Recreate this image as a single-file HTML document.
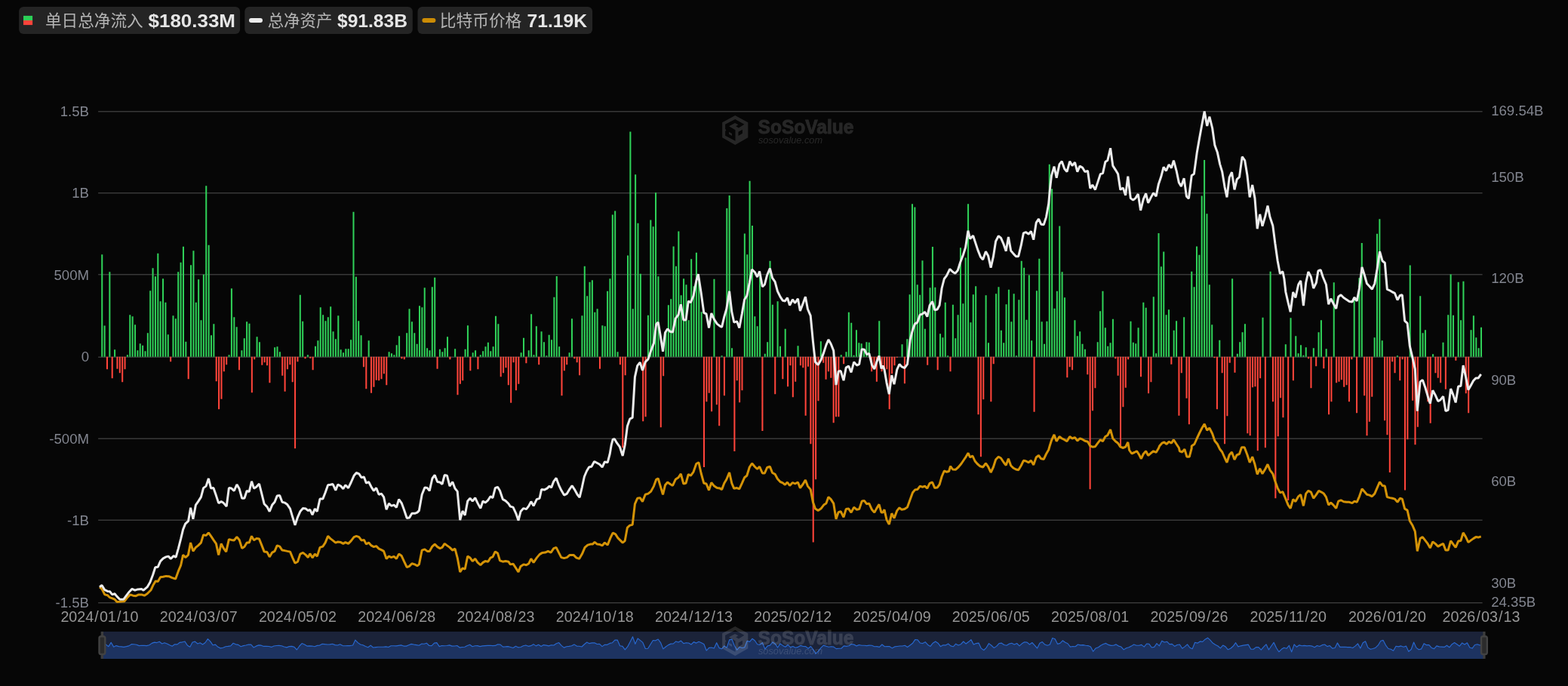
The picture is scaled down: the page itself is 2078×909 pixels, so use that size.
<!DOCTYPE html>
<html lang="zh"><head><meta charset="utf-8"><title>BTC Spot ETF Total Net Inflow</title>
<style>
html,body{margin:0;padding:0;background:#060606;}
body{width:2078px;height:909px;overflow:hidden;position:relative;font-family:"Liberation Sans",sans-serif;}
svg{position:absolute;left:0;top:0;display:block}
text{font-family:"Liberation Sans",sans-serif;}
.yl{fill:#82858f;font-size:18.6px}
.xl{fill:#969696;font-size:19.7px}
.lv{fill:#e6e6e6;font-size:24px;font-weight:bold}
.lg{fill:#b4b4b4;font-size:21.3px;font-family:"Liberation Sans","Noto Sans CJK SC",sans-serif}
</style></head><body>
<svg width="2078" height="909" viewBox="0 0 2078 909">
<rect width="2078" height="909" fill="#060606"/><g style="will-change:opacity">
<rect x="25.1" y="9.1" width="293.0" height="36" rx="6" fill="#242424"/>
<rect x="324.3" y="9.1" width="222.5" height="36" rx="6" fill="#242424"/>
<rect x="553.5" y="9.1" width="231.6" height="36" rx="6" fill="#242424"/>
<rect x="31" y="20.9" width="12.1" height="6.2" fill="#2dcf57"/><rect x="31" y="27" width="12.1" height="6.1" fill="#ff433a"/>
<rect x="330" y="24" width="18" height="6" rx="3" fill="#ececec"/>
<rect x="559.4" y="24" width="18" height="6" rx="3" fill="#cc8c05"/>
<text class="lg" x="60" y="34.8" text-anchor="start" textLength="129.6" lengthAdjust="spacingAndGlyphs">单日总净流入</text>
<text class="lg" x="354.7" y="34.8" text-anchor="start" textLength="85.7" lengthAdjust="spacingAndGlyphs">总净资产</text>
<text class="lg" x="582.8" y="34.8" text-anchor="start" textLength="108.5" lengthAdjust="spacingAndGlyphs">比特币价格</text>
<text class="lv" x="196.5" y="35.8" text-anchor="start" textLength="115.5" lengthAdjust="spacingAndGlyphs">$180.33M</text>
<text class="lv" x="447" y="35.8" text-anchor="start" textLength="93" lengthAdjust="spacingAndGlyphs">$91.83B</text>
<text class="lv" x="698.5" y="35.8" text-anchor="start" textLength="79.5" lengthAdjust="spacingAndGlyphs">71.19K</text>
<rect x="130.1" y="147.00" width="1834.5" height="1.5" fill="#383838"/>
<rect x="130.1" y="255.00" width="1834.5" height="1.5" fill="#383838"/>
<rect x="130.1" y="363.00" width="1834.5" height="1.5" fill="#383838"/>
<rect x="130.1" y="472.50" width="1834.5" height="1.5" fill="#383838"/>
<rect x="130.1" y="580.50" width="1834.5" height="1.5" fill="#383838"/>
<rect x="130.1" y="688.50" width="1834.5" height="1.5" fill="#383838"/>
<rect x="130.1" y="798.00" width="1834.5" height="1.5" fill="#383838"/>
<g fill="#ffffff" opacity="0.13"><path fill-rule="evenodd" d="M974.25 153.07 L991.33 162.13 L991.33 182.18 L974.25 192.08 L957.17 182.18 L957.17 162.13ZM961.13 171.29 L962.12 171.78 L962.12 173.76 L961.13 173.27 L961.13 179.70 L974.50 186.63 L974.50 172.28 L966.08 167.33 L974.00 162.97 L978.46 165.35 L975.24 167.33 L978.95 169.55 L986.38 164.85 L974.25 157.92 L961.13 164.85ZM966.08 174.75 L970.04 176.98 L970.04 179.95 L966.08 177.72ZM978.46 179.95 L983.90 176.73 L983.90 171.78 L978.46 174.75Z"/>
<text x="1004.5" y="176.8" font-size="25.8" font-weight="bold" stroke="#ffffff" stroke-width="0.9" textLength="127" lengthAdjust="spacingAndGlyphs">SoSoValue</text>
<text x="1005" y="189.8" font-size="12.5" font-style="italic" textLength="85" lengthAdjust="spacingAndGlyphs">sosovalue.com</text></g>
<path fill="#2fd058" d="M134.22 472.7h2.05V337.2h-2.05zM137.59 472.7h2.05V431.4h-2.05zM144.32 472.7h2.05V360.2h-2.05zM151.05 472.7h2.05V463.2h-2.05zM167.88 472.7h2.05V470.2h-2.05zM171.25 472.7h2.05V417.2h-2.05zM174.62 472.7h2.05V419.2h-2.05zM177.98 472.7h2.05V430.2h-2.05zM181.35 472.7h2.05V464.2h-2.05zM184.71 472.7h2.05V455.2h-2.05zM188.08 472.7h2.05V457.8h-2.05zM191.45 472.7h2.05V465.2h-2.05zM194.81 472.7h2.05V441.2h-2.05zM198.18 472.7h2.05V385.2h-2.05zM201.54 472.7h2.05V355.2h-2.05zM204.91 472.7h2.05V366.2h-2.05zM208.28 472.7h2.05V335.8h-2.05zM211.64 472.7h2.05V399.2h-2.05zM215.01 472.7h2.05V369.2h-2.05zM218.37 472.7h2.05V400.8h-2.05zM221.74 472.7h2.05V443.2h-2.05zM228.47 472.7h2.05V418.2h-2.05zM231.84 472.7h2.05V422.2h-2.05zM235.20 472.7h2.05V360.2h-2.05zM238.57 472.7h2.05V347.8h-2.05zM241.94 472.7h2.05V326.8h-2.05zM245.30 472.7h2.05V452.8h-2.05zM252.03 472.7h2.05V351.2h-2.05zM255.40 472.7h2.05V332.2h-2.05zM258.77 472.7h2.05V400.8h-2.05zM262.13 472.7h2.05V370.2h-2.05zM265.50 472.7h2.05V424.2h-2.05zM268.86 472.7h2.05V363.8h-2.05zM272.23 472.7h2.05V246.2h-2.05zM275.60 472.7h2.05V324.8h-2.05zM278.96 472.7h2.05V444.2h-2.05zM282.33 472.7h2.05V429.2h-2.05zM302.52 472.7h2.05V470.2h-2.05zM305.89 472.7h2.05V382.2h-2.05zM309.26 472.7h2.05V420.2h-2.05zM312.62 472.7h2.05V433.2h-2.05zM319.35 472.7h2.05V464.2h-2.05zM322.72 472.7h2.05V448.2h-2.05zM326.09 472.7h2.05V426.2h-2.05zM329.45 472.7h2.05V428.8h-2.05zM339.55 472.7h2.05V446.2h-2.05zM342.92 472.7h2.05V453.2h-2.05zM359.75 472.7h2.05V472.8h-2.05zM363.11 472.7h2.05V460.2h-2.05zM366.48 472.7h2.05V459.2h-2.05zM369.84 472.7h2.05V466.2h-2.05zM396.77 472.7h2.05V390.8h-2.05zM400.14 472.7h2.05V425.8h-2.05zM406.87 472.7h2.05V470.2h-2.05zM416.97 472.7h2.05V458.8h-2.05zM420.33 472.7h2.05V451.2h-2.05zM423.70 472.7h2.05V407.2h-2.05zM427.07 472.7h2.05V417.2h-2.05zM430.43 472.7h2.05V425.2h-2.05zM433.80 472.7h2.05V420.2h-2.05zM437.16 472.7h2.05V406.2h-2.05zM440.53 472.7h2.05V439.2h-2.05zM443.90 472.7h2.05V449.2h-2.05zM447.26 472.7h2.05V418.2h-2.05zM450.63 472.7h2.05V463.2h-2.05zM453.99 472.7h2.05V467.2h-2.05zM457.36 472.7h2.05V462.2h-2.05zM460.73 472.7h2.05V462.2h-2.05zM464.09 472.7h2.05V450.2h-2.05zM467.46 472.7h2.05V280.8h-2.05zM470.82 472.7h2.05V366.8h-2.05zM474.19 472.7h2.05V425.2h-2.05zM477.56 472.7h2.05V444.2h-2.05zM487.65 472.7h2.05V451.2h-2.05zM514.58 472.7h2.05V466.2h-2.05zM517.95 472.7h2.05V468.2h-2.05zM521.31 472.7h2.05V470.2h-2.05zM524.68 472.7h2.05V457.2h-2.05zM528.05 472.7h2.05V445.2h-2.05zM538.14 472.7h2.05V441.2h-2.05zM541.51 472.7h2.05V409.2h-2.05zM544.88 472.7h2.05V426.2h-2.05zM548.24 472.7h2.05V441.2h-2.05zM551.61 472.7h2.05V455.8h-2.05zM554.97 472.7h2.05V405.2h-2.05zM558.34 472.7h2.05V407.2h-2.05zM561.71 472.7h2.05V381.2h-2.05zM565.07 472.7h2.05V461.2h-2.05zM568.44 472.7h2.05V464.2h-2.05zM571.80 472.7h2.05V380.2h-2.05zM575.17 472.7h2.05V367.8h-2.05zM581.90 472.7h2.05V462.8h-2.05zM585.27 472.7h2.05V466.2h-2.05zM588.63 472.7h2.05V461.2h-2.05zM592.00 472.7h2.05V446.2h-2.05zM598.73 472.7h2.05V472.8h-2.05zM602.10 472.7h2.05V462.2h-2.05zM615.56 472.7h2.05V462.8h-2.05zM618.93 472.7h2.05V431.2h-2.05zM625.66 472.7h2.05V467.2h-2.05zM629.03 472.7h2.05V464.2h-2.05zM635.76 472.7h2.05V470.2h-2.05zM639.12 472.7h2.05V465.2h-2.05zM642.49 472.7h2.05V459.2h-2.05zM645.86 472.7h2.05V453.8h-2.05zM649.22 472.7h2.05V465.2h-2.05zM652.59 472.7h2.05V459.2h-2.05zM655.95 472.7h2.05V418.8h-2.05zM659.32 472.7h2.05V429.2h-2.05zM689.61 472.7h2.05V467.2h-2.05zM692.98 472.7h2.05V447.8h-2.05zM699.71 472.7h2.05V464.2h-2.05zM703.08 472.7h2.05V416.2h-2.05zM706.44 472.7h2.05V470.2h-2.05zM709.81 472.7h2.05V432.2h-2.05zM716.54 472.7h2.05V439.2h-2.05zM719.91 472.7h2.05V453.2h-2.05zM723.27 472.7h2.05V471.2h-2.05zM726.64 472.7h2.05V443.8h-2.05zM730.01 472.7h2.05V450.2h-2.05zM733.37 472.7h2.05V393.8h-2.05zM736.74 472.7h2.05V366.1h-2.05zM740.10 472.7h2.05V459.2h-2.05zM753.57 472.7h2.05V467.2h-2.05zM756.93 472.7h2.05V422.2h-2.05zM770.40 472.7h2.05V418.2h-2.05zM773.76 472.7h2.05V352.8h-2.05zM777.13 472.7h2.05V392.2h-2.05zM780.50 472.7h2.05V373.8h-2.05zM783.86 472.7h2.05V371.2h-2.05zM787.23 472.7h2.05V413.8h-2.05zM790.59 472.7h2.05V409.2h-2.05zM797.33 472.7h2.05V431.2h-2.05zM800.69 472.7h2.05V432.2h-2.05zM804.06 472.7h2.05V385.8h-2.05zM807.42 472.7h2.05V369.2h-2.05zM810.79 472.7h2.05V284.4h-2.05zM814.16 472.7h2.05V279.4h-2.05zM817.52 472.7h2.05V466.2h-2.05zM830.99 472.7h2.05V338.6h-2.05zM834.35 472.7h2.05V174.6h-2.05zM837.72 472.7h2.05V409.2h-2.05zM841.08 472.7h2.05V231.3h-2.05zM844.45 472.7h2.05V295.8h-2.05zM847.82 472.7h2.05V362.8h-2.05zM857.91 472.7h2.05V417.8h-2.05zM861.28 472.7h2.05V291.4h-2.05zM864.65 472.7h2.05V300.2h-2.05zM868.01 472.7h2.05V255.2h-2.05zM871.38 472.7h2.05V366.2h-2.05zM881.48 472.7h2.05V439.2h-2.05zM884.84 472.7h2.05V404.2h-2.05zM888.21 472.7h2.05V396.2h-2.05zM891.57 472.7h2.05V326.4h-2.05zM894.94 472.7h2.05V352.8h-2.05zM898.31 472.7h2.05V306.4h-2.05zM901.67 472.7h2.05V391.2h-2.05zM905.04 472.7h2.05V369.2h-2.05zM908.40 472.7h2.05V377.2h-2.05zM911.77 472.7h2.05V424.2h-2.05zM915.14 472.7h2.05V343.2h-2.05zM918.50 472.7h2.05V379.2h-2.05zM921.87 472.7h2.05V334.8h-2.05zM925.23 472.7h2.05V369.2h-2.05zM928.60 472.7h2.05V413.2h-2.05zM945.43 472.7h2.05V369.8h-2.05zM955.53 472.7h2.05V471.2h-2.05zM962.26 472.7h2.05V275.9h-2.05zM965.63 472.7h2.05V258.9h-2.05zM968.99 472.7h2.05V461.2h-2.05zM985.82 472.7h2.05V309.4h-2.05zM989.19 472.7h2.05V337.2h-2.05zM992.55 472.7h2.05V239.7h-2.05zM995.92 472.7h2.05V298.9h-2.05zM999.29 472.7h2.05V419.2h-2.05zM1002.65 472.7h2.05V432.2h-2.05zM1006.02 472.7h2.05V367.2h-2.05zM1012.75 472.7h2.05V468.8h-2.05zM1016.12 472.7h2.05V453.2h-2.05zM1019.48 472.7h2.05V345.8h-2.05zM1022.85 472.7h2.05V403.8h-2.05zM1029.58 472.7h2.05V399.2h-2.05zM1032.95 472.7h2.05V458.8h-2.05zM1039.68 472.7h2.05V435.8h-2.05zM1056.51 472.7h2.05V458.2h-2.05zM1086.80 472.7h2.05V452.2h-2.05zM1113.73 472.7h2.05V470.2h-2.05zM1120.46 472.7h2.05V466.2h-2.05zM1123.83 472.7h2.05V413.8h-2.05zM1127.19 472.7h2.05V427.8h-2.05zM1130.56 472.7h2.05V470.8h-2.05zM1133.93 472.7h2.05V437.2h-2.05zM1137.29 472.7h2.05V454.2h-2.05zM1140.66 472.7h2.05V455.2h-2.05zM1144.02 472.7h2.05V463.2h-2.05zM1147.39 472.7h2.05V453.2h-2.05zM1150.76 472.7h2.05V453.8h-2.05zM1164.22 472.7h2.05V425.2h-2.05zM1191.15 472.7h2.05V472.8h-2.05zM1194.51 472.7h2.05V456.2h-2.05zM1201.25 472.7h2.05V449.2h-2.05zM1204.61 472.7h2.05V390.2h-2.05zM1207.98 472.7h2.05V270.2h-2.05zM1211.34 472.7h2.05V274.6h-2.05zM1214.71 472.7h2.05V377.2h-2.05zM1218.08 472.7h2.05V390.8h-2.05zM1221.44 472.7h2.05V345.2h-2.05zM1224.81 472.7h2.05V435.8h-2.05zM1231.54 472.7h2.05V381.2h-2.05zM1234.91 472.7h2.05V326.9h-2.05zM1238.27 472.7h2.05V380.8h-2.05zM1245.00 472.7h2.05V442.2h-2.05zM1248.37 472.7h2.05V447.2h-2.05zM1251.74 472.7h2.05V400.8h-2.05zM1255.10 472.7h2.05V471.2h-2.05zM1261.83 472.7h2.05V403.8h-2.05zM1265.20 472.7h2.05V448.2h-2.05zM1268.57 472.7h2.05V417.2h-2.05zM1271.93 472.7h2.05V328.2h-2.05zM1275.30 472.7h2.05V402.2h-2.05zM1278.66 472.7h2.05V341.6h-2.05zM1282.03 472.7h2.05V270.2h-2.05zM1285.40 472.7h2.05V427.2h-2.05zM1288.76 472.7h2.05V390.2h-2.05zM1292.13 472.7h2.05V379.2h-2.05zM1305.59 472.7h2.05V391.2h-2.05zM1308.96 472.7h2.05V454.2h-2.05zM1319.06 472.7h2.05V389.2h-2.05zM1322.42 472.7h2.05V380.2h-2.05zM1325.79 472.7h2.05V437.8h-2.05zM1329.15 472.7h2.05V454.2h-2.05zM1332.52 472.7h2.05V403.2h-2.05zM1335.89 472.7h2.05V383.8h-2.05zM1339.25 472.7h2.05V426.2h-2.05zM1342.62 472.7h2.05V389.2h-2.05zM1345.98 472.7h2.05V471.2h-2.05zM1349.35 472.7h2.05V397.2h-2.05zM1352.72 472.7h2.05V345.8h-2.05zM1356.08 472.7h2.05V354.8h-2.05zM1359.45 472.7h2.05V423.8h-2.05zM1362.81 472.7h2.05V364.6h-2.05zM1366.18 472.7h2.05V451.2h-2.05zM1372.91 472.7h2.05V385.2h-2.05zM1376.28 472.7h2.05V342.8h-2.05zM1379.64 472.7h2.05V426.2h-2.05zM1383.01 472.7h2.05V455.8h-2.05zM1386.38 472.7h2.05V425.8h-2.05zM1389.74 472.7h2.05V217.7h-2.05zM1393.11 472.7h2.05V250.2h-2.05zM1396.47 472.7h2.05V408.8h-2.05zM1399.84 472.7h2.05V385.8h-2.05zM1403.21 472.7h2.05V299.4h-2.05zM1406.57 472.7h2.05V360.2h-2.05zM1409.94 472.7h2.05V394.2h-2.05zM1423.40 472.7h2.05V424.2h-2.05zM1426.77 472.7h2.05V445.2h-2.05zM1430.13 472.7h2.05V439.2h-2.05zM1433.50 472.7h2.05V455.8h-2.05zM1436.87 472.7h2.05V462.8h-2.05zM1453.70 472.7h2.05V453.2h-2.05zM1457.06 472.7h2.05V412.2h-2.05zM1460.43 472.7h2.05V385.8h-2.05zM1463.79 472.7h2.05V434.2h-2.05zM1467.16 472.7h2.05V458.8h-2.05zM1470.53 472.7h2.05V454.2h-2.05zM1473.89 472.7h2.05V422.8h-2.05zM1497.45 472.7h2.05V425.8h-2.05zM1500.82 472.7h2.05V453.8h-2.05zM1504.19 472.7h2.05V455.2h-2.05zM1507.55 472.7h2.05V434.2h-2.05zM1514.28 472.7h2.05V400.8h-2.05zM1517.65 472.7h2.05V407.8h-2.05zM1527.75 472.7h2.05V393.2h-2.05zM1531.11 472.7h2.05V468.2h-2.05zM1534.48 472.7h2.05V308.9h-2.05zM1537.85 472.7h2.05V353.2h-2.05zM1541.21 472.7h2.05V333.4h-2.05zM1544.58 472.7h2.05V417.2h-2.05zM1547.94 472.7h2.05V410.2h-2.05zM1554.68 472.7h2.05V437.8h-2.05zM1558.04 472.7h2.05V425.2h-2.05zM1568.14 472.7h2.05V420.2h-2.05zM1578.24 472.7h2.05V359.8h-2.05zM1581.60 472.7h2.05V380.2h-2.05zM1584.97 472.7h2.05V326.4h-2.05zM1588.34 472.7h2.05V337.8h-2.05zM1591.70 472.7h2.05V259.6h-2.05zM1595.07 472.7h2.05V211.9h-2.05zM1598.43 472.7h2.05V283.2h-2.05zM1601.80 472.7h2.05V377.2h-2.05zM1605.17 472.7h2.05V430.2h-2.05zM1615.26 472.7h2.05V450.8h-2.05zM1632.09 472.7h2.05V369.2h-2.05zM1638.83 472.7h2.05V468.8h-2.05zM1642.19 472.7h2.05V453.2h-2.05zM1645.56 472.7h2.05V440.2h-2.05zM1648.92 472.7h2.05V429.2h-2.05zM1672.49 472.7h2.05V420.8h-2.05zM1679.22 472.7h2.05V472.8h-2.05zM1682.58 472.7h2.05V359.8h-2.05zM1702.78 472.7h2.05V456.2h-2.05zM1709.51 472.7h2.05V421.2h-2.05zM1716.24 472.7h2.05V445.2h-2.05zM1719.61 472.7h2.05V468.2h-2.05zM1722.98 472.7h2.05V457.2h-2.05zM1726.34 472.7h2.05V470.8h-2.05zM1729.71 472.7h2.05V460.2h-2.05zM1739.81 472.7h2.05V461.2h-2.05zM1746.54 472.7h2.05V440.2h-2.05zM1749.90 472.7h2.05V424.2h-2.05zM1756.64 472.7h2.05V462.2h-2.05zM1766.73 472.7h2.05V374.2h-2.05zM1793.66 472.7h2.05V397.2h-2.05zM1800.39 472.7h2.05V368.2h-2.05zM1803.76 472.7h2.05V321.9h-2.05zM1820.59 472.7h2.05V447.2h-2.05zM1823.96 472.7h2.05V309.8h-2.05zM1827.32 472.7h2.05V290.2h-2.05zM1830.69 472.7h2.05V451.2h-2.05zM1850.88 472.7h2.05V471.2h-2.05zM1867.71 472.7h2.05V351.6h-2.05zM1881.18 472.7h2.05V392.2h-2.05zM1884.54 472.7h2.05V441.2h-2.05zM1887.91 472.7h2.05V437.2h-2.05zM1898.01 472.7h2.05V469.2h-2.05zM1911.47 472.7h2.05V453.8h-2.05zM1918.20 472.7h2.05V417.2h-2.05zM1921.57 472.7h2.05V363.6h-2.05zM1924.94 472.7h2.05V417.8h-2.05zM1931.67 472.7h2.05V373.8h-2.05zM1935.03 472.7h2.05V424.2h-2.05zM1938.40 472.7h2.05V372.8h-2.05zM1948.50 472.7h2.05V437.2h-2.05zM1951.86 472.7h2.05V418.2h-2.05zM1955.23 472.7h2.05V447.2h-2.05zM1958.60 472.7h2.05V461.2h-2.05zM1961.96 472.7h2.05V433.8h-2.05z"/>
<path fill="#ff443a" d="M140.96 472.7h2.05V489.2h-2.05zM147.69 472.7h2.05V501.2h-2.05zM154.42 472.7h2.05V488.8h-2.05zM157.79 472.7h2.05V494.2h-2.05zM161.15 472.7h2.05V506.2h-2.05zM164.52 472.7h2.05V489.2h-2.05zM225.11 472.7h2.05V479.2h-2.05zM248.67 472.7h2.05V502.2h-2.05zM285.69 472.7h2.05V505.2h-2.05zM289.06 472.7h2.05V542.2h-2.05zM292.43 472.7h2.05V528.8h-2.05zM295.79 472.7h2.05V492.2h-2.05zM299.16 472.7h2.05V483.2h-2.05zM315.99 472.7h2.05V490.2h-2.05zM332.82 472.7h2.05V520.2h-2.05zM336.18 472.7h2.05V476.2h-2.05zM346.28 472.7h2.05V483.8h-2.05zM349.65 472.7h2.05V480.2h-2.05zM353.01 472.7h2.05V484.2h-2.05zM356.38 472.7h2.05V507.2h-2.05zM373.21 472.7h2.05V497.8h-2.05zM376.58 472.7h2.05V518.8h-2.05zM379.94 472.7h2.05V489.2h-2.05zM383.31 472.7h2.05V483.2h-2.05zM386.67 472.7h2.05V506.2h-2.05zM390.04 472.7h2.05V594.2h-2.05zM393.41 472.7h2.05V479.2h-2.05zM403.50 472.7h2.05V475.2h-2.05zM410.24 472.7h2.05V474.8h-2.05zM413.60 472.7h2.05V490.2h-2.05zM480.92 472.7h2.05V486.2h-2.05zM484.29 472.7h2.05V515.2h-2.05zM491.02 472.7h2.05V520.8h-2.05zM494.39 472.7h2.05V512.8h-2.05zM497.75 472.7h2.05V503.8h-2.05zM501.12 472.7h2.05V504.2h-2.05zM504.48 472.7h2.05V502.2h-2.05zM507.85 472.7h2.05V495.2h-2.05zM511.22 472.7h2.05V510.2h-2.05zM531.41 472.7h2.05V475.2h-2.05zM534.78 472.7h2.05V476.2h-2.05zM578.54 472.7h2.05V488.8h-2.05zM595.37 472.7h2.05V476.2h-2.05zM605.46 472.7h2.05V523.2h-2.05zM608.83 472.7h2.05V508.8h-2.05zM612.20 472.7h2.05V504.2h-2.05zM622.29 472.7h2.05V491.2h-2.05zM632.39 472.7h2.05V489.2h-2.05zM662.69 472.7h2.05V499.2h-2.05zM666.05 472.7h2.05V494.2h-2.05zM669.42 472.7h2.05V487.2h-2.05zM672.78 472.7h2.05V510.2h-2.05zM676.15 472.7h2.05V533.8h-2.05zM679.52 472.7h2.05V480.2h-2.05zM682.88 472.7h2.05V517.2h-2.05zM686.25 472.7h2.05V508.8h-2.05zM696.35 472.7h2.05V481.2h-2.05zM713.18 472.7h2.05V483.2h-2.05zM743.47 472.7h2.05V524.2h-2.05zM746.84 472.7h2.05V491.2h-2.05zM750.20 472.7h2.05V483.2h-2.05zM760.30 472.7h2.05V475.2h-2.05zM763.67 472.7h2.05V480.2h-2.05zM767.03 472.7h2.05V497.2h-2.05zM793.96 472.7h2.05V488.8h-2.05zM820.89 472.7h2.05V483.2h-2.05zM824.25 472.7h2.05V593.2h-2.05zM827.62 472.7h2.05V497.2h-2.05zM851.18 472.7h2.05V558.2h-2.05zM854.55 472.7h2.05V552.2h-2.05zM874.74 472.7h2.05V566.2h-2.05zM878.11 472.7h2.05V498.2h-2.05zM931.97 472.7h2.05V619.0h-2.05zM935.33 472.7h2.05V532.2h-2.05zM938.70 472.7h2.05V520.8h-2.05zM942.06 472.7h2.05V545.2h-2.05zM948.80 472.7h2.05V536.2h-2.05zM952.16 472.7h2.05V564.2h-2.05zM958.89 472.7h2.05V524.2h-2.05zM972.36 472.7h2.05V597.9h-2.05zM975.72 472.7h2.05V504.2h-2.05zM979.09 472.7h2.05V533.2h-2.05zM982.46 472.7h2.05V517.2h-2.05zM1009.38 472.7h2.05V570.9h-2.05zM1026.21 472.7h2.05V522.2h-2.05zM1036.31 472.7h2.05V502.2h-2.05zM1043.04 472.7h2.05V512.2h-2.05zM1046.41 472.7h2.05V484.2h-2.05zM1049.78 472.7h2.05V526.2h-2.05zM1053.14 472.7h2.05V505.8h-2.05zM1059.87 472.7h2.05V484.2h-2.05zM1063.24 472.7h2.05V487.2h-2.05zM1066.61 472.7h2.05V550.8h-2.05zM1069.97 472.7h2.05V485.8h-2.05zM1073.34 472.7h2.05V588.2h-2.05zM1076.70 472.7h2.05V718.6h-2.05zM1080.07 472.7h2.05V635.2h-2.05zM1083.44 472.7h2.05V531.2h-2.05zM1090.17 472.7h2.05V480.8h-2.05zM1093.53 472.7h2.05V502.8h-2.05zM1096.90 472.7h2.05V492.2h-2.05zM1100.27 472.7h2.05V500.8h-2.05zM1103.63 472.7h2.05V560.2h-2.05zM1107.00 472.7h2.05V552.2h-2.05zM1110.36 472.7h2.05V552.2h-2.05zM1117.10 472.7h2.05V482.2h-2.05zM1154.12 472.7h2.05V492.2h-2.05zM1157.49 472.7h2.05V488.8h-2.05zM1160.85 472.7h2.05V505.8h-2.05zM1167.59 472.7h2.05V492.2h-2.05zM1170.95 472.7h2.05V488.2h-2.05zM1174.32 472.7h2.05V489.2h-2.05zM1177.68 472.7h2.05V542.2h-2.05zM1181.05 472.7h2.05V495.2h-2.05zM1184.42 472.7h2.05V484.2h-2.05zM1187.78 472.7h2.05V473.8h-2.05zM1197.88 472.7h2.05V508.2h-2.05zM1228.17 472.7h2.05V483.8h-2.05zM1241.64 472.7h2.05V490.2h-2.05zM1258.47 472.7h2.05V492.2h-2.05zM1295.49 472.7h2.05V549.2h-2.05zM1298.86 472.7h2.05V605.2h-2.05zM1302.23 472.7h2.05V529.2h-2.05zM1312.32 472.7h2.05V532.2h-2.05zM1315.69 472.7h2.05V482.2h-2.05zM1369.55 472.7h2.05V545.8h-2.05zM1413.30 472.7h2.05V500.2h-2.05zM1416.67 472.7h2.05V486.2h-2.05zM1420.04 472.7h2.05V490.2h-2.05zM1440.23 472.7h2.05V496.2h-2.05zM1443.60 472.7h2.05V648.2h-2.05zM1446.96 472.7h2.05V544.2h-2.05zM1450.33 472.7h2.05V514.2h-2.05zM1477.26 472.7h2.05V475.2h-2.05zM1480.62 472.7h2.05V497.8h-2.05zM1483.99 472.7h2.05V591.2h-2.05zM1487.36 472.7h2.05V539.2h-2.05zM1490.72 472.7h2.05V513.8h-2.05zM1494.09 472.7h2.05V476.2h-2.05zM1510.92 472.7h2.05V499.2h-2.05zM1521.02 472.7h2.05V521.2h-2.05zM1524.38 472.7h2.05V506.2h-2.05zM1551.31 472.7h2.05V482.8h-2.05zM1561.41 472.7h2.05V550.8h-2.05zM1564.77 472.7h2.05V494.2h-2.05zM1571.51 472.7h2.05V527.8h-2.05zM1574.87 472.7h2.05V562.2h-2.05zM1608.53 472.7h2.05V474.2h-2.05zM1611.90 472.7h2.05V542.2h-2.05zM1618.63 472.7h2.05V494.2h-2.05zM1622.00 472.7h2.05V588.2h-2.05zM1625.36 472.7h2.05V551.2h-2.05zM1628.73 472.7h2.05V480.8h-2.05zM1635.46 472.7h2.05V493.8h-2.05zM1652.29 472.7h2.05V574.2h-2.05zM1655.66 472.7h2.05V577.2h-2.05zM1659.02 472.7h2.05V513.2h-2.05zM1662.39 472.7h2.05V512.2h-2.05zM1665.75 472.7h2.05V597.2h-2.05zM1669.12 472.7h2.05V501.2h-2.05zM1675.85 472.7h2.05V593.2h-2.05zM1685.95 472.7h2.05V532.2h-2.05zM1689.32 472.7h2.05V660.2h-2.05zM1692.68 472.7h2.05V578.2h-2.05zM1696.05 472.7h2.05V527.2h-2.05zM1699.41 472.7h2.05V553.2h-2.05zM1706.15 472.7h2.05V662.9h-2.05zM1712.88 472.7h2.05V504.2h-2.05zM1733.07 472.7h2.05V475.2h-2.05zM1736.44 472.7h2.05V514.2h-2.05zM1743.17 472.7h2.05V485.2h-2.05zM1753.27 472.7h2.05V488.2h-2.05zM1760.00 472.7h2.05V549.2h-2.05zM1763.37 472.7h2.05V532.2h-2.05zM1770.10 472.7h2.05V507.2h-2.05zM1773.47 472.7h2.05V505.8h-2.05zM1776.83 472.7h2.05V503.2h-2.05zM1780.20 472.7h2.05V512.8h-2.05zM1783.56 472.7h2.05V510.2h-2.05zM1786.93 472.7h2.05V532.2h-2.05zM1790.30 472.7h2.05V476.2h-2.05zM1797.03 472.7h2.05V547.2h-2.05zM1807.13 472.7h2.05V524.2h-2.05zM1810.49 472.7h2.05V577.2h-2.05zM1813.86 472.7h2.05V558.8h-2.05zM1817.22 472.7h2.05V525.8h-2.05zM1834.05 472.7h2.05V557.2h-2.05zM1837.42 472.7h2.05V576.2h-2.05zM1840.79 472.7h2.05V625.9h-2.05zM1844.15 472.7h2.05V479.2h-2.05zM1847.52 472.7h2.05V494.2h-2.05zM1854.25 472.7h2.05V504.2h-2.05zM1857.62 472.7h2.05V476.2h-2.05zM1860.98 472.7h2.05V649.6h-2.05zM1864.35 472.7h2.05V582.2h-2.05zM1871.08 472.7h2.05V530.8h-2.05zM1874.45 472.7h2.05V589.2h-2.05zM1877.81 472.7h2.05V565.8h-2.05zM1891.28 472.7h2.05V532.2h-2.05zM1894.64 472.7h2.05V560.8h-2.05zM1901.37 472.7h2.05V494.2h-2.05zM1904.74 472.7h2.05V500.8h-2.05zM1908.11 472.7h2.05V507.2h-2.05zM1914.84 472.7h2.05V515.8h-2.05zM1928.30 472.7h2.05V477.8h-2.05zM1941.77 472.7h2.05V521.2h-2.05zM1945.13 472.7h2.05V547.2h-2.05z"/>
<polyline fill="none" stroke="#d49307" stroke-width="3" stroke-linejoin="bevel" stroke-linecap="butt" points="132.0,777.9 135.0,780.4 138.8,787.9 142.5,788.7 145.5,791.7 148.8,792.9 152.0,794.2 155.0,797.5 158.8,797.2 165.0,796.7 168.8,791.7 172.5,787.9 176.3,789.2 180.1,789.7 183.8,787.9 187.6,787.9 191.3,789.2 195.1,786.7 200.1,781.7 203.3,774.7 206.3,769.9 209.3,770.4 212.6,764.7 216.3,764.2 220.1,763.4 223.8,763.7 227.6,765.4 232.6,767.2 236.4,756.7 239.6,749.2 242.6,735.4 245.9,738.6 249.4,735.4 252.6,719.1 255.9,730.4 259.4,725.4 262.6,722.9 266.4,719.1 269.6,708.6 273.1,709.6 276.4,705.9 279.6,710.4 282.9,715.4 286.4,720.4 289.7,735.4 293.2,720.4 296.4,726.6 299.7,731.1 303.4,714.6 306.7,715.4 310.2,715.9 313.9,711.6 317.2,715.4 320.7,726.6 323.9,724.6 327.2,719.1 330.2,719.1 333.5,710.4 336.5,715.9 339.7,713.6 343.5,714.1 346.5,721.6 350.2,731.1 354.0,731.6 357.2,737.9 360.7,732.1 364.0,730.4 367.2,722.9 370.7,724.1 374.0,729.1 377.2,729.6 380.8,730.4 384.5,731.1 387.8,739.1 391.0,746.2 394.5,744.2 397.8,734.1 401.5,732.4 405.3,735.4 408.3,738.6 410.8,733.6 414.0,739.1 417.3,734.1 420.3,737.1 424.0,725.4 427.8,724.1 431.1,719.1 434.6,710.4 437.8,713.6 441.1,716.1 444.8,719.1 447.8,717.9 451.6,718.6 454.8,720.4 457.8,718.6 461.6,720.4 465.3,716.6 469.1,711.6 472.3,710.4 475.8,711.6 479.1,716.1 482.4,715.4 485.4,721.1 488.6,719.1 492.1,722.9 495.4,724.6 498.6,723.6 502.1,727.1 505.4,728.6 508.6,730.4 512.1,740.4 515.4,737.1 518.6,738.6 522.1,737.4 525.4,740.4 528.6,734.1 532.2,736.6 535.4,743.6 539.2,751.7 542.4,750.4 545.9,746.7 549.7,747.9 552.9,749.7 555.4,747.9 559.2,729.1 562.9,727.9 566.2,730.4 569.2,730.4 572.9,724.1 576.2,721.1 579.7,724.6 583.0,726.6 586.0,725.4 589.2,720.4 592.5,722.9 596.0,725.4 599.7,729.1 603.0,727.1 606.2,739.1 609.7,757.9 613.0,752.9 616.2,754.2 619.7,737.1 623.0,739.1 626.2,743.6 629.7,740.4 633.0,745.4 636.8,748.7 640.0,745.4 643.0,743.6 646.8,744.2 650.0,739.1 653.0,737.9 656.3,730.9 659.5,732.9 662.5,742.9 666.3,744.2 670.0,743.6 673.8,744.2 676.3,747.9 680.0,747.2 683.8,752.9 687.0,757.9 690.0,750.4 693.8,747.9 697.5,748.7 700.8,746.7 703.8,740.4 707.1,745.4 711.3,739.1 715.1,734.6 718.8,732.4 722.6,732.1 726.3,730.4 730.1,732.1 733.8,726.6 737.1,725.4 740.6,732.4 743.8,738.6 747.6,739.6 751.4,738.6 755.1,735.4 760.1,735.4 763.9,739.1 767.6,740.4 771.4,734.1 775.1,725.4 778.9,722.1 782.6,721.1 785.6,720.9 788.1,718.4 791.4,721.1 795.1,721.6 798.1,722.9 801.4,719.1 805.2,722.1 808.9,712.9 812.2,706.1 815.7,707.9 818.9,712.9 822.7,716.6 825.2,719.1 828.2,716.6 831.4,699.1 834.7,696.1 838.2,695.4 841.4,667.8 844.7,660.3 848.2,659.6 851.5,664.6 855.2,655.3 859.0,654.1 862.7,651.1 866.5,644.1 869.7,635.3 872.2,634.0 875.2,644.1 878.5,655.3 881.5,642.8 884.7,639.0 888.2,641.5 891.5,643.5 895.2,635.3 899.0,632.8 902.3,627.8 905.8,641.0 909.0,640.3 912.3,628.5 915.3,630.3 919.0,625.3 922.8,614.5 926.0,612.8 929.0,626.5 932.8,640.3 936.0,641.0 939.5,649.6 942.8,639.5 946.5,644.1 950.3,646.6 954.1,647.1 956.6,648.6 959.8,640.3 962.8,635.3 966.6,626.0 969.8,640.3 972.8,647.3 976.6,646.6 979.8,647.8 983.3,640.3 986.6,632.8 989.8,630.3 993.3,619.0 996.6,614.0 1000.4,618.5 1003.6,621.5 1006.6,618.3 1010.4,627.0 1013.4,627.0 1016.6,619.5 1020.4,618.3 1023.6,626.5 1027.1,628.3 1030.4,634.5 1034.1,638.5 1037.4,639.8 1040.4,642.3 1043.4,639.0 1046.6,643.5 1050.4,639.5 1053.7,641.0 1057.4,639.0 1060.4,646.6 1064.2,641.5 1067.4,636.0 1070.4,644.1 1074.2,648.6 1077.4,665.3 1080.4,674.1 1084.2,676.6 1087.9,674.1 1091.7,669.1 1094.9,667.1 1097.9,658.6 1101.2,661.6 1104.7,667.1 1108.0,687.8 1111.2,678.6 1114.2,677.8 1118.0,685.3 1121.2,674.6 1124.7,674.1 1128.0,679.1 1131.7,672.1 1135.5,675.3 1138.7,674.6 1142.2,664.1 1145.5,663.6 1148.7,667.8 1151.8,667.1 1155.5,675.3 1158.8,679.1 1161.8,673.6 1165.0,668.3 1168.0,679.1 1170.0,679.1 1172.0,675.3 1175.0,688.6 1178.3,694.9 1181.8,680.3 1185.0,686.6 1188.8,676.6 1192.0,672.8 1195.0,675.3 1198.8,674.6 1202.5,672.1 1206.3,661.6 1209.5,652.8 1212.5,649.1 1215.8,648.6 1219.3,644.1 1222.6,645.3 1225.6,644.1 1228.8,647.1 1232.1,640.3 1235.6,639.0 1238.8,646.6 1242.1,646.1 1245.1,642.0 1248.1,631.5 1251.3,624.0 1254.6,625.3 1257.6,624.5 1259.6,617.8 1262.6,622.0 1266.3,622.3 1270.1,619.0 1273.9,614.5 1277.6,609.0 1280.1,605.3 1283.1,600.3 1285.6,606.0 1288.9,604.0 1292.1,611.0 1295.1,614.5 1298.9,617.8 1302.6,619.0 1306.4,614.0 1309.6,618.3 1313.1,626.0 1316.4,619.0 1319.6,609.0 1323.2,605.3 1326.4,607.0 1330.2,612.8 1333.2,616.5 1336.4,607.8 1339.7,617.0 1343.2,620.3 1346.4,622.0 1349.7,622.8 1353.2,617.0 1356.4,610.3 1359.7,611.0 1363.2,612.8 1366.4,610.3 1369.7,616.0 1373.2,606.0 1376.5,603.5 1379.7,607.8 1383.2,608.5 1386.5,601.5 1389.7,596.0 1391.5,589.7 1393.5,583.5 1397.0,576.0 1400.2,584.7 1404.0,578.5 1407.2,581.0 1410.7,582.7 1414.0,584.7 1417.7,578.5 1421.0,581.0 1424.5,579.7 1427.8,584.2 1431.0,581.0 1434.5,582.2 1437.8,584.2 1441.5,585.2 1444.8,591.0 1447.8,592.2 1451.5,591.7 1454.8,587.2 1458.3,582.7 1461.5,584.7 1464.8,578.5 1467.8,576.7 1471.6,569.2 1474.8,581.0 1478.3,584.7 1481.6,587.2 1484.8,592.2 1488.3,593.5 1491.6,592.2 1494.8,586.0 1496.6,596.5 1499.8,601.0 1503.3,599.5 1506.6,597.8 1509.8,602.8 1512.3,607.8 1515.3,601.5 1518.6,597.8 1521.6,603.5 1525.4,600.3 1528.6,597.8 1532.1,599.5 1535.4,594.0 1536.6,591.0 1539.9,587.2 1542.9,586.0 1546.1,588.5 1549.1,585.2 1552.4,587.2 1555.4,582.7 1559.1,588.5 1562.4,593.5 1563.4,597.8 1566.6,599.0 1569.9,595.3 1572.9,605.3 1576.2,605.3 1579.2,594.0 1579.2,591.0 1582.9,588.5 1586.2,581.0 1589.7,573.5 1592.9,567.2 1596.2,561.7 1599.7,570.2 1602.9,567.2 1606.7,574.7 1609.9,584.2 1613.4,588.5 1616.7,595.3 1619.7,599.0 1623.0,606.5 1626.0,612.8 1629.2,602.8 1632.5,599.0 1636.0,609.0 1639.2,602.8 1642.5,601.5 1645.5,592.7 1649.2,592.7 1653.0,602.8 1656.2,612.8 1659.7,605.3 1663.0,615.3 1666.2,628.5 1669.7,621.0 1673.0,627.8 1676.8,621.5 1680.0,615.3 1683.0,622.8 1686.8,627.8 1689.9,637.8 1693.1,646.6 1696.4,652.8 1699.9,651.6 1703.1,659.1 1707.1,669.1 1710.2,673.6 1713.7,661.6 1716.9,664.6 1720.7,657.8 1723.7,655.3 1727.4,670.3 1730.7,654.1 1733.9,650.3 1737.4,652.1 1740.7,660.3 1744.4,655.3 1747.7,650.3 1751.2,652.1 1754.4,654.1 1757.4,658.6 1760.7,669.1 1763.7,666.1 1767.0,669.1 1770.7,673.6 1773.7,664.1 1777.0,662.8 1780.7,664.8 1784.5,665.3 1788.2,665.3 1792.0,666.6 1795.0,664.1 1798.2,665.3 1801.5,657.8 1805.0,647.8 1808.3,651.6 1811.5,655.3 1815.0,656.1 1818.3,657.8 1821.8,654.1 1825.0,646.6 1828.5,638.5 1832.0,643.5 1835.3,644.1 1838.3,658.6 1842.0,659.6 1845.3,660.3 1848.3,661.1 1852.0,665.3 1855.3,660.3 1858.3,661.1 1861.6,674.1 1865.1,676.1 1868.3,690.3 1872.1,696.6 1875.3,704.1 1878.3,730.4 1882.1,713.6 1885.3,711.6 1888.8,716.1 1892.1,720.4 1895.3,726.1 1898.8,717.9 1902.1,720.4 1905.8,724.1 1909.1,722.1 1912.6,720.4 1915.9,729.1 1919.1,729.1 1922.6,716.6 1925.9,721.1 1929.1,725.4 1932.6,717.1 1935.9,716.6 1939.1,705.9 1942.6,711.6 1945.9,718.6 1949.1,716.1 1952.6,713.6 1955.9,711.6 1959.2,712.1 1962.7,710.9"/>
<polyline fill="none" stroke="#ececec" stroke-width="3" stroke-linejoin="bevel" stroke-linecap="butt" points="132.0,777.9 135.0,775.4 138.8,781.7 142.5,783.4 145.5,783.7 148.8,787.9 152.0,786.7 155.0,790.4 158.8,794.2 163.8,794.2 167.5,789.2 171.3,784.2 175.0,780.4 178.8,782.2 182.6,780.9 187.6,780.4 190.1,782.2 195.1,777.9 198.8,771.7 202.6,761.7 205.8,751.7 209.3,751.2 212.6,743.6 216.3,739.9 220.1,737.9 223.1,737.1 226.3,740.4 230.1,736.6 233.1,738.4 236.4,726.6 239.6,714.1 242.6,701.6 245.6,694.1 249.6,690.3 252.6,672.8 255.9,687.8 259.4,669.1 262.6,664.6 266.4,658.6 269.6,646.6 273.1,644.1 276.4,634.0 279.6,647.1 282.9,646.6 286.4,656.6 289.7,666.6 293.2,664.6 296.4,666.6 300.2,671.1 303.4,646.6 306.7,647.1 310.2,650.3 313.9,642.0 317.2,647.8 320.7,660.3 323.9,660.3 327.2,650.3 330.2,651.6 333.5,637.8 336.5,647.1 339.7,645.3 343.5,641.0 346.5,652.8 350.2,667.8 354.0,671.6 357.2,677.8 360.7,669.1 364.0,665.3 367.2,657.1 370.7,656.6 374.0,665.3 377.2,666.1 380.8,668.6 384.5,674.1 387.8,685.3 391.0,695.9 394.5,685.3 397.8,677.8 401.5,673.6 405.3,674.1 408.3,676.6 410.8,675.3 414.0,682.1 417.3,674.1 420.3,677.8 424.0,661.1 427.8,661.1 431.1,652.8 434.6,642.8 437.8,642.3 441.1,641.5 444.8,649.6 447.8,642.0 451.6,644.1 454.8,647.8 457.8,642.8 461.6,646.6 465.3,639.0 469.1,630.3 472.3,626.5 475.8,627.8 479.1,632.8 482.4,632.0 485.4,640.3 488.6,638.5 492.1,645.3 495.4,650.3 498.6,646.6 502.1,655.3 505.4,654.1 508.6,658.6 512.1,675.3 515.4,667.1 518.6,670.3 522.1,669.1 525.4,672.3 528.6,661.6 532.2,666.6 535.4,675.3 539.2,686.6 542.4,686.1 545.9,680.3 549.7,680.3 552.9,679.1 555.4,676.6 559.2,655.3 562.9,646.1 566.2,646.6 569.2,650.3 572.9,634.0 576.2,629.5 579.7,638.5 583.0,639.0 586.0,641.5 589.2,629.5 592.5,630.3 596.0,644.1 599.7,638.5 603.0,647.3 606.2,651.1 609.7,689.1 613.0,677.1 616.2,682.8 619.7,664.1 623.0,660.3 626.2,664.1 629.7,659.6 633.0,666.6 636.8,673.6 640.0,664.1 643.0,666.1 646.8,662.8 650.0,657.8 653.0,659.6 656.3,646.6 659.5,645.3 662.5,650.3 666.3,661.6 670.0,663.6 673.8,667.3 676.3,671.1 680.0,672.1 683.8,680.3 687.0,689.6 690.0,677.8 693.8,673.6 697.5,674.6 700.8,670.3 703.8,664.6 707.1,670.3 711.3,661.6 715.1,660.3 717.6,648.6 721.3,649.1 725.1,647.1 728.1,644.1 730.6,646.1 733.8,637.8 737.1,633.5 740.6,642.8 743.8,649.6 747.6,656.1 751.4,654.1 755.1,647.8 758.1,643.5 761.4,648.6 765.1,655.3 768.1,659.1 771.4,645.3 774.4,631.5 777.6,624.0 780.6,619.0 783.9,618.3 787.6,611.5 791.4,613.5 794.6,615.3 798.1,619.0 801.4,612.0 805.2,612.8 808.2,601.5 810.2,589.7 812.2,582.2 814.4,581.7 817.7,587.2 821.4,592.2 825.2,604.0 828.2,589.7 831.4,564.7 834.7,555.2 838.2,553.4 841.4,499.6 844.7,484.6 848.2,480.1 851.5,490.9 855.2,479.6 859.0,475.9 862.7,464.6 866.5,454.6 869.7,429.6 872.2,427.1 875.2,444.6 878.5,465.8 881.5,440.8 884.7,435.8 888.2,439.6 891.5,440.1 895.2,422.1 899.0,417.1 902.3,403.3 905.8,424.1 909.0,424.1 912.3,399.0 915.3,400.8 919.0,392.0 922.8,372.0 925.3,363.2 929.0,387.0 932.8,414.5 936.0,415.8 939.5,434.6 942.8,415.0 946.5,423.3 950.3,429.1 954.1,432.1 956.6,433.3 959.8,419.6 962.8,409.5 966.6,385.8 969.8,413.3 972.8,427.1 976.6,425.8 979.8,434.6 983.3,415.8 986.6,397.0 989.8,392.0 993.3,374.5 996.6,357.0 1000.4,360.7 1003.6,367.0 1006.6,359.5 1010.4,380.0 1013.4,377.0 1016.6,364.5 1020.4,355.7 1023.6,368.3 1027.1,373.3 1030.4,385.8 1034.1,393.3 1037.4,398.3 1040.4,399.0 1043.4,394.5 1046.6,404.5 1050.4,397.0 1053.7,401.5 1057.4,395.8 1060.4,412.0 1064.2,402.0 1067.4,393.3 1070.4,409.5 1074.2,418.3 1077.4,452.1 1080.4,479.6 1084.2,483.4 1087.9,477.1 1091.7,467.1 1094.9,457.1 1097.9,450.1 1101.2,455.8 1104.7,464.6 1108.0,510.1 1111.2,492.1 1114.2,491.6 1118.0,504.1 1121.2,487.1 1124.7,485.1 1128.0,493.4 1131.7,479.6 1135.5,484.1 1138.7,482.6 1142.2,462.6 1145.5,463.3 1148.7,469.6 1151.8,468.4 1155.5,483.4 1158.8,489.1 1161.8,479.6 1165.0,471.6 1168.0,488.4 1170.0,484.6 1172.0,489.6 1175.0,507.1 1178.3,522.2 1181.8,497.1 1185.0,509.1 1188.8,489.6 1192.0,482.6 1195.0,485.9 1198.8,487.6 1202.5,482.6 1206.3,449.6 1209.5,437.1 1212.5,429.1 1215.8,427.1 1219.3,417.1 1222.6,415.8 1225.6,413.3 1228.8,419.6 1232.1,404.5 1235.6,399.5 1238.8,410.8 1242.1,410.0 1245.1,404.5 1248.1,382.0 1251.3,369.5 1254.6,365.2 1258.8,356.5 1262.6,360.2 1265.8,362.2 1269.3,358.2 1272.6,347.7 1276.4,337.7 1279.6,327.7 1282.9,305.7 1285.6,316.4 1289.6,312.2 1292.6,321.4 1295.9,331.4 1299.4,340.2 1302.6,344.0 1306.4,333.2 1309.6,338.9 1313.1,354.7 1316.4,340.2 1319.6,319.7 1323.2,312.7 1326.4,315.2 1330.2,323.9 1333.2,332.7 1336.4,313.9 1339.7,332.2 1343.2,336.4 1346.4,339.7 1349.7,339.7 1353.2,325.2 1356.4,308.9 1359.7,307.7 1363.2,310.2 1366.4,306.4 1369.7,317.7 1373.2,295.2 1376.5,290.2 1379.7,297.2 1383.2,297.7 1386.5,287.6 1389.7,270.1 1391.5,250.1 1393.5,232.6 1397.0,220.6 1400.2,235.6 1404.0,217.6 1407.2,213.8 1410.7,223.8 1414.0,227.6 1417.7,213.8 1421.0,219.6 1424.5,215.1 1427.8,227.6 1431.0,220.1 1434.5,222.1 1437.8,227.6 1441.5,226.3 1444.8,249.6 1447.8,245.1 1451.5,251.4 1454.8,241.4 1458.3,230.6 1461.5,229.6 1464.8,214.6 1467.8,212.6 1471.6,196.3 1474.8,219.6 1478.3,225.1 1481.6,230.6 1484.8,251.4 1488.3,248.9 1491.6,258.9 1494.8,233.8 1498.3,262.6 1501.6,265.1 1504.8,262.6 1508.3,257.1 1511.6,278.9 1515.3,263.9 1518.6,256.4 1521.6,268.9 1525.4,261.4 1528.6,255.6 1532.1,260.1 1535.4,243.9 1538.6,234.6 1542.1,221.3 1545.4,226.3 1549.1,218.1 1552.4,222.6 1555.4,212.6 1559.1,226.3 1562.4,242.1 1565.4,247.1 1569.1,236.3 1572.4,260.1 1575.4,263.1 1579.2,232.6 1582.4,230.6 1586.2,202.6 1589.7,182.5 1592.9,165.0 1596.2,147.5 1599.7,167.0 1602.9,154.5 1606.7,170.0 1609.9,192.6 1613.4,202.1 1616.7,217.6 1619.7,227.6 1623.0,247.6 1626.0,261.4 1629.2,235.1 1632.5,228.1 1636.0,251.4 1639.2,237.6 1642.5,234.6 1646.2,207.6 1649.7,212.6 1653.0,232.6 1656.2,261.4 1659.7,245.1 1663.0,262.6 1666.2,303.2 1669.7,283.9 1673.0,299.7 1676.8,286.4 1680.0,272.6 1683.0,287.6 1686.8,298.9 1689.9,322.7 1693.1,345.2 1696.4,362.7 1699.9,359.7 1701.9,369.5 1703.9,387.0 1707.1,400.8 1710.2,413.3 1713.7,387.0 1716.9,394.5 1720.7,377.0 1723.7,372.0 1727.4,405.0 1730.7,374.5 1733.9,360.2 1737.4,367.0 1740.7,382.0 1744.4,374.5 1746.9,359.0 1750.2,357.7 1753.2,367.0 1757.4,377.0 1760.7,403.3 1763.7,395.8 1767.0,402.0 1770.7,409.0 1773.7,393.3 1777.0,390.8 1780.7,394.5 1784.5,397.0 1788.2,399.5 1792.0,400.0 1795.0,394.0 1798.2,399.0 1801.5,382.0 1805.0,354.0 1808.3,364.5 1811.5,375.8 1815.0,379.5 1818.3,383.3 1821.8,375.8 1825.0,357.0 1828.5,333.2 1832.0,345.7 1835.3,348.2 1838.3,383.3 1842.0,385.0 1845.3,387.0 1848.3,388.3 1852.0,397.5 1855.3,391.5 1858.3,390.8 1861.6,425.1 1865.1,428.3 1868.3,458.3 1872.1,474.6 1875.3,489.1 1878.3,544.7 1882.1,505.9 1885.3,503.4 1888.8,513.4 1892.1,524.7 1895.3,534.7 1898.8,517.2 1902.1,523.4 1905.8,531.7 1909.1,529.7 1912.6,525.2 1915.9,544.7 1919.1,543.4 1922.6,515.1 1925.9,523.4 1929.1,533.4 1932.6,512.1 1935.9,511.6 1939.1,484.1 1942.6,499.6 1945.9,516.6 1949.1,510.9 1952.6,504.6 1955.9,500.9 1959.2,500.9 1962.7,495.9"/>
<text class="yl" x="118.0" y="153.6" text-anchor="end">1.5B</text>
<text class="yl" x="118.0" y="262.1" text-anchor="end">1B</text>
<text class="yl" x="118.0" y="370.6" text-anchor="end">500M</text>
<text class="yl" x="118.0" y="479.1" text-anchor="end">0</text>
<text class="yl" x="118.0" y="587.5" text-anchor="end">-500M</text>
<text class="yl" x="118.0" y="696.0" text-anchor="end">-1B</text>
<text class="yl" x="118.0" y="804.5" text-anchor="end">-1.5B</text>
<text class="yl" x="1976.2" y="153.2" text-anchor="start">169.54B</text>
<text class="yl" x="1976.2" y="240.9" text-anchor="start">150B</text>
<text class="yl" x="1976.2" y="375.4" text-anchor="start">120B</text>
<text class="yl" x="1976.2" y="509.9" text-anchor="start">90B</text>
<text class="yl" x="1976.2" y="644.4" text-anchor="start">60B</text>
<text class="yl" x="1976.2" y="778.9" text-anchor="start">30B</text>
<text class="yl" x="1976.2" y="804.2" text-anchor="start">24.35B</text>
<text class="xl" x="131.9" y="823.9" text-anchor="middle" dx="0 0 0 0 1.1 1.1 0 1.1 1.1 0">2024/01/10</text>
<text class="xl" x="263.2" y="823.9" text-anchor="middle" dx="0 0 0 0 1.1 1.1 0 1.1 1.1 0">2024/03/07</text>
<text class="xl" x="394.4" y="823.9" text-anchor="middle" dx="0 0 0 0 1.1 1.1 0 1.1 1.1 0">2024/05/02</text>
<text class="xl" x="525.7" y="823.9" text-anchor="middle" dx="0 0 0 0 1.1 1.1 0 1.1 1.1 0">2024/06/28</text>
<text class="xl" x="657.0" y="823.9" text-anchor="middle" dx="0 0 0 0 1.1 1.1 0 1.1 1.1 0">2024/08/23</text>
<text class="xl" x="788.3" y="823.9" text-anchor="middle" dx="0 0 0 0 1.1 1.1 0 1.1 1.1 0">2024/10/18</text>
<text class="xl" x="919.5" y="823.9" text-anchor="middle" dx="0 0 0 0 1.1 1.1 0 1.1 1.1 0">2024/12/13</text>
<text class="xl" x="1050.8" y="823.9" text-anchor="middle" dx="0 0 0 0 1.1 1.1 0 1.1 1.1 0">2025/02/12</text>
<text class="xl" x="1182.1" y="823.9" text-anchor="middle" dx="0 0 0 0 1.1 1.1 0 1.1 1.1 0">2025/04/09</text>
<text class="xl" x="1313.3" y="823.9" text-anchor="middle" dx="0 0 0 0 1.1 1.1 0 1.1 1.1 0">2025/06/05</text>
<text class="xl" x="1444.6" y="823.9" text-anchor="middle" dx="0 0 0 0 1.1 1.1 0 1.1 1.1 0">2025/08/01</text>
<text class="xl" x="1575.9" y="823.9" text-anchor="middle" dx="0 0 0 0 1.1 1.1 0 1.1 1.1 0">2025/09/26</text>
<text class="xl" x="1707.2" y="823.9" text-anchor="middle" dx="0 0 0 0 1.1 1.1 0 1.1 1.1 0">2025/11/20</text>
<text class="xl" x="1838.4" y="823.9" text-anchor="middle" dx="0 0 0 0 1.1 1.1 0 1.1 1.1 0">2026/01/20</text>
<text class="xl" x="1963.0" y="823.9" text-anchor="middle" dx="0 0 0 0 1.1 1.1 0 1.1 1.1 0">2026/03/13</text>
<rect x="133.75" y="836.9" width="1832.75" height="36.00" fill="#1b2339"/>
<path fill="#1d3361" d="M133.75 872.9 L133.8 856.00 L137.1 850.38 L140.5 854.27 L143.9 856.66 L147.2 851.33 L150.6 857.16 L154.0 855.59 L157.4 856.64 L160.7 856.87 L164.1 857.37 L167.5 856.66 L170.8 855.88 L174.2 853.69 L177.6 853.77 L181.0 854.22 L184.3 855.63 L187.7 855.26 L191.1 855.36 L194.4 855.67 L197.8 854.68 L201.2 852.36 L204.6 851.12 L207.9 851.58 L211.3 850.32 L214.7 852.94 L218.0 851.70 L221.4 853.00 L224.8 854.76 L228.2 856.25 L231.5 853.73 L234.9 853.89 L238.3 851.33 L241.6 850.81 L245.0 849.94 L248.4 855.15 L251.8 857.20 L255.1 850.96 L258.5 850.17 L261.9 853.00 L265.2 851.74 L268.6 853.98 L272.0 851.47 L275.4 846.61 L278.7 849.86 L282.1 854.80 L285.5 854.18 L288.9 857.33 L292.2 858.86 L295.6 858.30 L299.0 856.79 L302.3 856.42 L305.7 855.88 L309.1 852.24 L312.5 853.81 L315.8 854.35 L319.2 856.71 L322.6 855.63 L325.9 854.97 L329.3 854.06 L332.7 854.16 L336.1 857.95 L339.4 856.13 L342.8 854.89 L346.2 855.17 L349.5 856.44 L352.9 856.29 L356.3 856.46 L359.7 857.41 L363.0 855.98 L366.4 855.46 L369.8 855.42 L373.1 855.71 L376.5 857.02 L379.9 857.88 L383.3 856.66 L386.6 856.42 L390.0 857.37 L393.4 861.01 L396.7 856.25 L400.1 852.59 L403.5 854.04 L406.9 856.08 L410.2 855.88 L413.6 856.06 L417.0 856.71 L420.4 855.40 L423.7 855.09 L427.1 853.27 L430.5 853.69 L433.8 854.02 L437.2 853.81 L440.6 853.23 L444.0 854.60 L447.3 855.01 L450.7 853.73 L454.1 855.59 L457.4 855.75 L460.8 855.55 L464.2 855.55 L467.6 855.05 L470.9 848.04 L474.3 851.60 L477.7 854.02 L481.0 854.80 L484.4 856.54 L487.8 857.74 L491.2 855.09 L494.5 857.97 L497.9 857.64 L501.3 857.26 L504.6 857.28 L508.0 857.20 L511.4 856.91 L514.8 857.53 L518.1 855.71 L521.5 855.80 L524.9 855.88 L528.2 855.34 L531.6 854.84 L535.0 856.08 L538.4 856.13 L541.7 854.68 L545.1 853.36 L548.5 854.06 L551.9 854.68 L555.2 855.28 L558.6 853.19 L562.0 853.27 L565.3 852.20 L568.7 855.51 L572.1 855.63 L575.5 852.16 L578.8 851.64 L582.2 856.64 L585.6 855.57 L588.9 855.71 L592.3 855.51 L595.7 854.89 L599.1 856.13 L602.4 855.98 L605.8 855.55 L609.2 858.07 L612.5 857.47 L615.9 857.28 L619.3 855.57 L622.7 854.27 L626.0 856.75 L629.4 855.75 L632.8 855.63 L636.1 856.66 L639.5 855.88 L642.9 855.67 L646.3 855.42 L649.6 855.20 L653.0 855.67 L656.4 855.42 L659.7 853.75 L663.1 854.18 L666.5 857.08 L669.9 856.87 L673.2 856.58 L676.6 857.53 L680.0 858.50 L683.4 856.29 L686.7 857.82 L690.1 857.47 L693.5 855.75 L696.8 854.95 L700.2 856.33 L703.6 855.63 L707.0 853.64 L710.3 855.88 L713.7 854.31 L717.1 856.42 L720.4 854.60 L723.8 855.17 L727.2 855.92 L730.6 854.78 L733.9 855.05 L737.3 852.71 L740.7 851.57 L744.0 855.42 L747.4 858.11 L750.8 856.75 L754.2 856.42 L757.5 855.75 L760.9 853.89 L764.3 856.08 L767.6 856.29 L771.0 856.99 L774.4 853.73 L777.8 851.02 L781.1 852.65 L784.5 851.89 L787.9 851.78 L791.2 853.54 L794.6 853.36 L798.0 856.64 L801.4 854.27 L804.7 854.31 L808.1 852.38 L811.5 851.70 L814.9 848.19 L818.2 847.99 L821.6 855.71 L825.0 856.42 L828.3 860.96 L831.7 856.99 L835.1 850.43 L838.5 843.65 L841.8 853.36 L845.2 846.00 L848.6 848.66 L851.9 851.43 L855.3 859.52 L858.7 859.27 L862.1 853.71 L865.4 848.48 L868.8 848.85 L872.2 846.99 L875.5 851.58 L878.9 859.85 L882.3 857.04 L885.7 854.60 L889.0 853.15 L892.4 852.82 L895.8 849.93 L899.1 851.02 L902.5 849.10 L905.9 852.61 L909.3 851.70 L912.6 852.03 L916.0 853.98 L919.4 850.63 L922.7 852.11 L926.1 850.27 L929.5 851.70 L932.9 853.52 L936.2 862.03 L939.6 858.44 L943.0 857.97 L946.3 858.98 L949.7 851.72 L953.1 858.61 L956.5 859.77 L959.8 855.92 L963.2 858.11 L966.6 847.84 L970.0 847.14 L973.3 855.51 L976.7 861.15 L980.1 857.28 L983.4 858.48 L986.8 857.82 L990.2 849.23 L993.6 850.38 L996.9 846.34 L1000.3 848.79 L1003.7 853.77 L1007.0 854.31 L1010.4 851.62 L1013.8 860.04 L1017.2 855.82 L1020.5 855.17 L1023.9 850.73 L1027.3 853.13 L1030.6 858.03 L1034.0 852.94 L1037.4 855.40 L1040.8 857.20 L1044.1 854.45 L1047.5 857.61 L1050.9 856.46 L1054.2 858.19 L1057.6 857.35 L1061.0 855.38 L1064.4 856.46 L1067.7 856.58 L1071.1 859.21 L1074.5 856.52 L1077.8 860.76 L1081.2 866.15 L1084.6 862.70 L1088.0 858.40 L1091.3 855.13 L1094.7 856.31 L1098.1 857.22 L1101.5 856.79 L1104.8 857.14 L1108.2 859.60 L1111.6 859.27 L1114.9 859.27 L1118.3 855.88 L1121.7 856.37 L1125.1 855.71 L1128.4 853.54 L1131.8 854.12 L1135.2 855.90 L1138.5 854.51 L1141.9 855.22 L1145.3 855.26 L1148.7 855.59 L1152.0 855.17 L1155.4 855.20 L1158.8 856.79 L1162.1 856.64 L1165.5 857.35 L1168.9 854.02 L1172.3 856.79 L1175.6 856.62 L1179.0 856.66 L1182.4 858.86 L1185.7 856.91 L1189.1 856.46 L1192.5 856.02 L1195.9 855.98 L1199.2 855.30 L1202.6 857.45 L1206.0 855.01 L1209.3 852.57 L1212.7 847.61 L1216.1 847.79 L1219.5 852.03 L1222.8 852.59 L1226.2 850.71 L1229.6 854.45 L1233.0 856.44 L1236.3 852.20 L1239.7 849.95 L1243.1 852.18 L1246.4 856.71 L1249.8 854.72 L1253.2 854.93 L1256.6 853.00 L1259.9 855.92 L1263.3 856.79 L1266.7 853.13 L1270.0 854.97 L1273.4 853.69 L1276.8 850.01 L1280.2 853.07 L1283.5 850.56 L1286.9 847.61 L1290.3 854.10 L1293.6 852.57 L1297.0 852.11 L1300.4 859.14 L1303.8 861.46 L1307.1 858.32 L1310.5 852.61 L1313.9 855.22 L1317.2 858.44 L1320.6 856.37 L1324.0 852.53 L1327.4 852.16 L1330.7 854.53 L1334.1 855.22 L1337.5 853.11 L1340.8 852.30 L1344.2 854.06 L1347.6 852.53 L1351.0 855.92 L1354.3 852.86 L1357.7 850.73 L1361.1 851.10 L1364.5 853.96 L1367.8 851.51 L1371.2 855.09 L1374.6 859.00 L1377.9 852.36 L1381.3 850.61 L1384.7 854.06 L1388.1 855.28 L1391.4 854.04 L1394.8 845.43 L1398.2 846.78 L1401.5 853.33 L1404.9 852.38 L1408.3 848.81 L1411.7 851.33 L1415.0 852.74 L1418.4 857.12 L1421.8 856.54 L1425.1 856.71 L1428.5 853.98 L1431.9 854.84 L1435.3 854.60 L1438.6 855.28 L1442.0 855.57 L1445.4 856.95 L1448.7 863.24 L1452.1 858.94 L1455.5 857.70 L1458.9 855.17 L1462.2 853.48 L1465.6 852.38 L1469.0 854.39 L1472.3 855.40 L1475.7 855.22 L1479.1 853.91 L1482.5 856.08 L1485.8 857.02 L1489.2 860.88 L1492.6 858.73 L1496.0 857.68 L1499.3 856.13 L1502.7 854.04 L1506.1 855.20 L1509.4 855.26 L1512.8 854.39 L1516.2 857.08 L1519.6 853.00 L1522.9 853.29 L1526.3 857.99 L1529.7 857.37 L1533.0 852.69 L1536.4 855.80 L1539.8 849.21 L1543.2 851.04 L1546.5 850.22 L1549.9 853.69 L1553.3 853.40 L1556.6 856.39 L1560.0 854.53 L1563.4 854.02 L1566.8 859.21 L1570.1 856.87 L1573.5 853.81 L1576.9 858.26 L1580.2 859.68 L1583.6 851.31 L1587.0 852.16 L1590.4 849.93 L1593.7 850.40 L1597.1 847.17 L1600.5 845.19 L1603.8 848.15 L1607.2 852.03 L1610.6 854.22 L1614.0 856.04 L1617.3 858.86 L1620.7 855.07 L1624.1 856.87 L1627.4 860.76 L1630.8 859.23 L1634.2 856.31 L1637.6 851.70 L1640.9 856.85 L1644.3 855.82 L1647.7 855.17 L1651.1 854.64 L1654.4 854.18 L1657.8 860.18 L1661.2 860.30 L1664.5 857.66 L1667.9 857.61 L1671.3 861.13 L1674.7 857.16 L1678.0 853.83 L1681.4 860.96 L1684.8 855.98 L1688.1 851.31 L1691.5 858.44 L1694.9 863.74 L1698.3 860.34 L1701.6 858.24 L1705.0 859.31 L1708.4 855.30 L1711.7 863.84 L1715.1 853.85 L1718.5 857.28 L1721.9 854.84 L1725.2 855.80 L1728.6 855.34 L1732.0 855.90 L1735.3 855.46 L1738.7 856.08 L1742.1 857.70 L1745.5 855.51 L1748.8 856.50 L1752.2 854.64 L1755.6 853.98 L1758.9 856.62 L1762.3 855.55 L1765.7 859.14 L1769.1 858.44 L1772.4 851.91 L1775.8 857.41 L1779.2 857.35 L1782.6 857.24 L1785.9 857.64 L1789.3 857.53 L1792.7 858.44 L1796.0 856.13 L1799.4 852.86 L1802.8 859.06 L1806.2 851.66 L1809.5 849.75 L1812.9 858.11 L1816.3 860.30 L1819.6 859.54 L1823.0 858.17 L1826.4 854.93 L1829.8 849.24 L1833.1 848.43 L1836.5 855.09 L1839.9 859.48 L1843.2 860.26 L1846.6 862.31 L1850.0 856.25 L1853.4 856.87 L1856.7 855.92 L1860.1 857.28 L1863.5 856.13 L1866.8 863.30 L1870.2 860.51 L1873.6 850.97 L1877.0 858.38 L1880.3 860.80 L1883.7 859.83 L1887.1 852.65 L1890.4 854.68 L1893.8 854.51 L1897.2 858.44 L1900.6 859.62 L1903.9 855.84 L1907.3 856.87 L1910.7 857.14 L1914.1 857.41 L1917.4 855.20 L1920.8 857.76 L1924.2 853.69 L1927.5 851.47 L1930.9 853.71 L1934.3 856.19 L1937.7 851.89 L1941.0 853.98 L1944.4 851.85 L1947.8 857.99 L1951.1 859.06 L1954.5 854.51 L1957.9 853.73 L1961.3 854.93 L1964.6 855.51 L1968.0 854.37 L1966.5 872.9Z"/>
<polyline fill="none" stroke="#2868cf" stroke-width="1.15" stroke-linejoin="round" points="133.8,856.00 137.1,850.38 140.5,854.27 143.9,856.66 147.2,851.33 150.6,857.16 154.0,855.59 157.4,856.64 160.7,856.87 164.1,857.37 167.5,856.66 170.8,855.88 174.2,853.69 177.6,853.77 181.0,854.22 184.3,855.63 187.7,855.26 191.1,855.36 194.4,855.67 197.8,854.68 201.2,852.36 204.6,851.12 207.9,851.58 211.3,850.32 214.7,852.94 218.0,851.70 221.4,853.00 224.8,854.76 228.2,856.25 231.5,853.73 234.9,853.89 238.3,851.33 241.6,850.81 245.0,849.94 248.4,855.15 251.8,857.20 255.1,850.96 258.5,850.17 261.9,853.00 265.2,851.74 268.6,853.98 272.0,851.47 275.4,846.61 278.7,849.86 282.1,854.80 285.5,854.18 288.9,857.33 292.2,858.86 295.6,858.30 299.0,856.79 302.3,856.42 305.7,855.88 309.1,852.24 312.5,853.81 315.8,854.35 319.2,856.71 322.6,855.63 325.9,854.97 329.3,854.06 332.7,854.16 336.1,857.95 339.4,856.13 342.8,854.89 346.2,855.17 349.5,856.44 352.9,856.29 356.3,856.46 359.7,857.41 363.0,855.98 366.4,855.46 369.8,855.42 373.1,855.71 376.5,857.02 379.9,857.88 383.3,856.66 386.6,856.42 390.0,857.37 393.4,861.01 396.7,856.25 400.1,852.59 403.5,854.04 406.9,856.08 410.2,855.88 413.6,856.06 417.0,856.71 420.4,855.40 423.7,855.09 427.1,853.27 430.5,853.69 433.8,854.02 437.2,853.81 440.6,853.23 444.0,854.60 447.3,855.01 450.7,853.73 454.1,855.59 457.4,855.75 460.8,855.55 464.2,855.55 467.6,855.05 470.9,848.04 474.3,851.60 477.7,854.02 481.0,854.80 484.4,856.54 487.8,857.74 491.2,855.09 494.5,857.97 497.9,857.64 501.3,857.26 504.6,857.28 508.0,857.20 511.4,856.91 514.8,857.53 518.1,855.71 521.5,855.80 524.9,855.88 528.2,855.34 531.6,854.84 535.0,856.08 538.4,856.13 541.7,854.68 545.1,853.36 548.5,854.06 551.9,854.68 555.2,855.28 558.6,853.19 562.0,853.27 565.3,852.20 568.7,855.51 572.1,855.63 575.5,852.16 578.8,851.64 582.2,856.64 585.6,855.57 588.9,855.71 592.3,855.51 595.7,854.89 599.1,856.13 602.4,855.98 605.8,855.55 609.2,858.07 612.5,857.47 615.9,857.28 619.3,855.57 622.7,854.27 626.0,856.75 629.4,855.75 632.8,855.63 636.1,856.66 639.5,855.88 642.9,855.67 646.3,855.42 649.6,855.20 653.0,855.67 656.4,855.42 659.7,853.75 663.1,854.18 666.5,857.08 669.9,856.87 673.2,856.58 676.6,857.53 680.0,858.50 683.4,856.29 686.7,857.82 690.1,857.47 693.5,855.75 696.8,854.95 700.2,856.33 703.6,855.63 707.0,853.64 710.3,855.88 713.7,854.31 717.1,856.42 720.4,854.60 723.8,855.17 727.2,855.92 730.6,854.78 733.9,855.05 737.3,852.71 740.7,851.57 744.0,855.42 747.4,858.11 750.8,856.75 754.2,856.42 757.5,855.75 760.9,853.89 764.3,856.08 767.6,856.29 771.0,856.99 774.4,853.73 777.8,851.02 781.1,852.65 784.5,851.89 787.9,851.78 791.2,853.54 794.6,853.36 798.0,856.64 801.4,854.27 804.7,854.31 808.1,852.38 811.5,851.70 814.9,848.19 818.2,847.99 821.6,855.71 825.0,856.42 828.3,860.96 831.7,856.99 835.1,850.43 838.5,843.65 841.8,853.36 845.2,846.00 848.6,848.66 851.9,851.43 855.3,859.52 858.7,859.27 862.1,853.71 865.4,848.48 868.8,848.85 872.2,846.99 875.5,851.58 878.9,859.85 882.3,857.04 885.7,854.60 889.0,853.15 892.4,852.82 895.8,849.93 899.1,851.02 902.5,849.10 905.9,852.61 909.3,851.70 912.6,852.03 916.0,853.98 919.4,850.63 922.7,852.11 926.1,850.27 929.5,851.70 932.9,853.52 936.2,862.03 939.6,858.44 943.0,857.97 946.3,858.98 949.7,851.72 953.1,858.61 956.5,859.77 959.8,855.92 963.2,858.11 966.6,847.84 970.0,847.14 973.3,855.51 976.7,861.15 980.1,857.28 983.4,858.48 986.8,857.82 990.2,849.23 993.6,850.38 996.9,846.34 1000.3,848.79 1003.7,853.77 1007.0,854.31 1010.4,851.62 1013.8,860.04 1017.2,855.82 1020.5,855.17 1023.9,850.73 1027.3,853.13 1030.6,858.03 1034.0,852.94 1037.4,855.40 1040.8,857.20 1044.1,854.45 1047.5,857.61 1050.9,856.46 1054.2,858.19 1057.6,857.35 1061.0,855.38 1064.4,856.46 1067.7,856.58 1071.1,859.21 1074.5,856.52 1077.8,860.76 1081.2,866.15 1084.6,862.70 1088.0,858.40 1091.3,855.13 1094.7,856.31 1098.1,857.22 1101.5,856.79 1104.8,857.14 1108.2,859.60 1111.6,859.27 1114.9,859.27 1118.3,855.88 1121.7,856.37 1125.1,855.71 1128.4,853.54 1131.8,854.12 1135.2,855.90 1138.5,854.51 1141.9,855.22 1145.3,855.26 1148.7,855.59 1152.0,855.17 1155.4,855.20 1158.8,856.79 1162.1,856.64 1165.5,857.35 1168.9,854.02 1172.3,856.79 1175.6,856.62 1179.0,856.66 1182.4,858.86 1185.7,856.91 1189.1,856.46 1192.5,856.02 1195.9,855.98 1199.2,855.30 1202.6,857.45 1206.0,855.01 1209.3,852.57 1212.7,847.61 1216.1,847.79 1219.5,852.03 1222.8,852.59 1226.2,850.71 1229.6,854.45 1233.0,856.44 1236.3,852.20 1239.7,849.95 1243.1,852.18 1246.4,856.71 1249.8,854.72 1253.2,854.93 1256.6,853.00 1259.9,855.92 1263.3,856.79 1266.7,853.13 1270.0,854.97 1273.4,853.69 1276.8,850.01 1280.2,853.07 1283.5,850.56 1286.9,847.61 1290.3,854.10 1293.6,852.57 1297.0,852.11 1300.4,859.14 1303.8,861.46 1307.1,858.32 1310.5,852.61 1313.9,855.22 1317.2,858.44 1320.6,856.37 1324.0,852.53 1327.4,852.16 1330.7,854.53 1334.1,855.22 1337.5,853.11 1340.8,852.30 1344.2,854.06 1347.6,852.53 1351.0,855.92 1354.3,852.86 1357.7,850.73 1361.1,851.10 1364.5,853.96 1367.8,851.51 1371.2,855.09 1374.6,859.00 1377.9,852.36 1381.3,850.61 1384.7,854.06 1388.1,855.28 1391.4,854.04 1394.8,845.43 1398.2,846.78 1401.5,853.33 1404.9,852.38 1408.3,848.81 1411.7,851.33 1415.0,852.74 1418.4,857.12 1421.8,856.54 1425.1,856.71 1428.5,853.98 1431.9,854.84 1435.3,854.60 1438.6,855.28 1442.0,855.57 1445.4,856.95 1448.7,863.24 1452.1,858.94 1455.5,857.70 1458.9,855.17 1462.2,853.48 1465.6,852.38 1469.0,854.39 1472.3,855.40 1475.7,855.22 1479.1,853.91 1482.5,856.08 1485.8,857.02 1489.2,860.88 1492.6,858.73 1496.0,857.68 1499.3,856.13 1502.7,854.04 1506.1,855.20 1509.4,855.26 1512.8,854.39 1516.2,857.08 1519.6,853.00 1522.9,853.29 1526.3,857.99 1529.7,857.37 1533.0,852.69 1536.4,855.80 1539.8,849.21 1543.2,851.04 1546.5,850.22 1549.9,853.69 1553.3,853.40 1556.6,856.39 1560.0,854.53 1563.4,854.02 1566.8,859.21 1570.1,856.87 1573.5,853.81 1576.9,858.26 1580.2,859.68 1583.6,851.31 1587.0,852.16 1590.4,849.93 1593.7,850.40 1597.1,847.17 1600.5,845.19 1603.8,848.15 1607.2,852.03 1610.6,854.22 1614.0,856.04 1617.3,858.86 1620.7,855.07 1624.1,856.87 1627.4,860.76 1630.8,859.23 1634.2,856.31 1637.6,851.70 1640.9,856.85 1644.3,855.82 1647.7,855.17 1651.1,854.64 1654.4,854.18 1657.8,860.18 1661.2,860.30 1664.5,857.66 1667.9,857.61 1671.3,861.13 1674.7,857.16 1678.0,853.83 1681.4,860.96 1684.8,855.98 1688.1,851.31 1691.5,858.44 1694.9,863.74 1698.3,860.34 1701.6,858.24 1705.0,859.31 1708.4,855.30 1711.7,863.84 1715.1,853.85 1718.5,857.28 1721.9,854.84 1725.2,855.80 1728.6,855.34 1732.0,855.90 1735.3,855.46 1738.7,856.08 1742.1,857.70 1745.5,855.51 1748.8,856.50 1752.2,854.64 1755.6,853.98 1758.9,856.62 1762.3,855.55 1765.7,859.14 1769.1,858.44 1772.4,851.91 1775.8,857.41 1779.2,857.35 1782.6,857.24 1785.9,857.64 1789.3,857.53 1792.7,858.44 1796.0,856.13 1799.4,852.86 1802.8,859.06 1806.2,851.66 1809.5,849.75 1812.9,858.11 1816.3,860.30 1819.6,859.54 1823.0,858.17 1826.4,854.93 1829.8,849.24 1833.1,848.43 1836.5,855.09 1839.9,859.48 1843.2,860.26 1846.6,862.31 1850.0,856.25 1853.4,856.87 1856.7,855.92 1860.1,857.28 1863.5,856.13 1866.8,863.30 1870.2,860.51 1873.6,850.97 1877.0,858.38 1880.3,860.80 1883.7,859.83 1887.1,852.65 1890.4,854.68 1893.8,854.51 1897.2,858.44 1900.6,859.62 1903.9,855.84 1907.3,856.87 1910.7,857.14 1914.1,857.41 1917.4,855.20 1920.8,857.76 1924.2,853.69 1927.5,851.47 1930.9,853.71 1934.3,856.19 1937.7,851.89 1941.0,853.98 1944.4,851.85 1947.8,857.99 1951.1,859.06 1954.5,854.51 1957.9,853.73 1961.3,854.93 1964.6,855.51 1968.0,854.37"/>
<g fill="#ffffff" opacity="0.13"><path fill-rule="evenodd" d="M974.25 830.07 L991.33 839.13 L991.33 859.18 L974.25 869.08 L957.17 859.18 L957.17 839.13ZM961.13 848.29 L962.12 848.78 L962.12 850.76 L961.13 850.27 L961.13 856.70 L974.50 863.63 L974.50 849.28 L966.08 844.33 L974.00 839.97 L978.46 842.35 L975.24 844.33 L978.95 846.55 L986.38 841.85 L974.25 834.92 L961.13 841.85ZM966.08 851.75 L970.04 853.98 L970.04 856.95 L966.08 854.72ZM978.46 856.95 L983.90 853.73 L983.90 848.78 L978.46 851.75Z"/>
<text x="1004.5" y="853.8" font-size="25.8" font-weight="bold" stroke="#ffffff" stroke-width="0.9" textLength="127" lengthAdjust="spacingAndGlyphs">SoSoValue</text>
<text x="1005" y="866.8" font-size="12.5" font-style="italic" textLength="85" lengthAdjust="spacingAndGlyphs">sosovalue.com</text></g>
<rect x="133.75" y="836.9" width="3.3" height="36.00" fill="#3d3d3d"/>
<rect x="131.50" y="843.2" width="7.8" height="23.7" rx="2.5" fill="#2b2b2b" stroke="#424242" stroke-width="2.4"/>
<rect x="1965.25" y="836.9" width="3.3" height="36.00" fill="#3d3d3d"/>
<rect x="1963.00" y="843.2" width="7.8" height="23.7" rx="2.5" fill="#2b2b2b" stroke="#424242" stroke-width="2.4"/>
</g></svg></body></html>
